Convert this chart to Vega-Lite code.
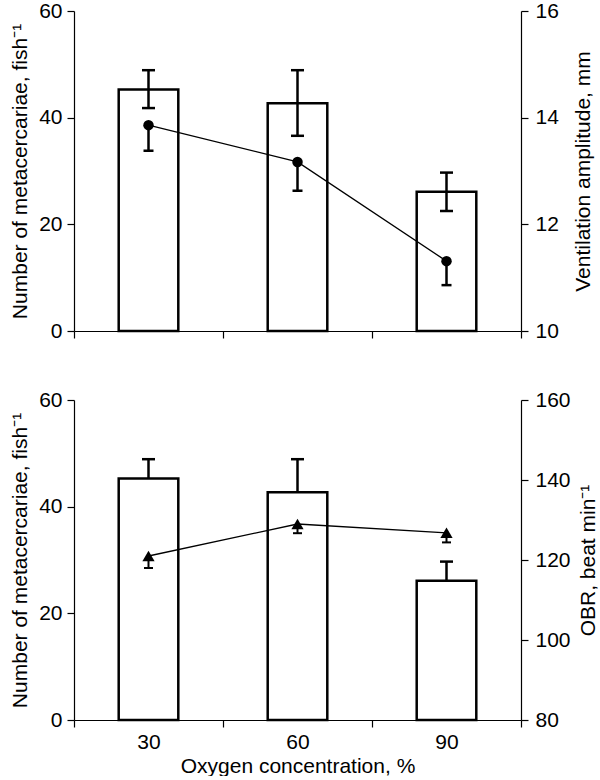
{
  "$schema": "https://vega.github.io/schema/vega-lite/v6.json",
  "padding": {"top": 0, "left": 9, "right": 0, "bottom": 0},
  "background": "white",
  "data": {"values": [
    {"o2": 30, "meta": 45.3, "meta_lo": 41.8, "meta_hi": 48.9, "vent": 13.86, "vent_lo": 13.38, "obr": 121, "obr_lo": 118},
    {"o2": 60, "meta": 42.7, "meta_lo": 36.6, "meta_hi": 48.9, "vent": 13.17, "vent_lo": 12.63, "obr": 129, "obr_lo": 126.7},
    {"o2": 90, "meta": 26.1, "meta_lo": 22.5, "meta_hi": 29.7, "vent": 11.31, "vent_lo": 10.86, "obr": 126.8, "obr_lo": 124.4}
  ]},
  "spacing": 48,
  "vconcat": [
    {
      "width": 447,
      "height": 320,
      "encoding": {
        "x": {"field": "o2", "type": "ordinal", "scale": {"padding": 0}, "axis": {"labels": false, "title": null, "tickBand": "extent", "labelAngle": 0}}
      },
      "layer": [
        {
          "layer": [
            {"mark": {"type": "bar", "fill": "white", "stroke": "black", "strokeWidth": 2.5, "width": {"band": 0.4}},
             "encoding": {"y": {"field": "meta", "type": "quantitative", "title": "Number of metacercariae, fish⁻¹", "scale": {"domain": [0, 60], "nice": false}, "axis": {"values": [0, 20, 40, 60], "orient": "left"}}}},
            {"mark": {"type": "rule", "color": "black", "strokeWidth": 2.5},
             "encoding": {"y": {"field": "meta_lo", "type": "quantitative", "title": "Number of metacercariae, fish⁻¹"}, "y2": {"field": "meta_hi"}}},
            {"mark": {"type": "tick", "color": "black", "thickness": 2.5, "size": 13, "opacity": 1},
             "encoding": {"y": {"field": "meta_hi", "type": "quantitative", "title": "Number of metacercariae, fish⁻¹"}}},
            {"mark": {"type": "tick", "color": "black", "thickness": 2.5, "size": 13, "opacity": 1},
             "encoding": {"y": {"field": "meta_lo", "type": "quantitative", "title": "Number of metacercariae, fish⁻¹"}}}
          ]
        },
        {
          "layer": [
            {"mark": {"type": "line", "color": "black", "strokeWidth": 1.3},
             "encoding": {"y": {"field": "vent", "type": "quantitative", "title": "Ventilation amplitude, mm", "scale": {"domain": [10, 16], "nice": false, "zero": false}, "axis": {"values": [10, 12, 14, 16], "orient": "right", "titleAngle": -90, "titleBaseline": "top", "labelPadding": 7, "titlePadding": 14}}}},
            {"mark": {"type": "rule", "color": "black", "strokeWidth": 2.5},
             "encoding": {"y": {"field": "vent_lo", "type": "quantitative", "title": "Ventilation amplitude, mm"}, "y2": {"field": "vent"}}},
            {"mark": {"type": "tick", "color": "black", "thickness": 2.5, "size": 10, "opacity": 1},
             "encoding": {"y": {"field": "vent_lo", "type": "quantitative", "title": "Ventilation amplitude, mm"}}},
            {"mark": {"type": "point", "filled": true, "color": "black", "size": 110, "opacity": 1},
             "encoding": {"y": {"field": "vent", "type": "quantitative", "title": "Ventilation amplitude, mm"}}}
          ]
        }
      ],
      "resolve": {"scale": {"y": "independent"}, "axis": {"y": "independent"}}
    },
    {
      "width": 447,
      "height": 320,
      "encoding": {
        "x": {"field": "o2", "type": "ordinal", "scale": {"padding": 0}, "axis": {"title": "Oxygen concentration, %", "tickBand": "extent", "labelAngle": 0, "labelPadding": 4, "titlePadding": 3}}
      },
      "layer": [
        {
          "layer": [
            {"mark": {"type": "bar", "fill": "white", "stroke": "black", "strokeWidth": 2.5, "width": {"band": 0.4}},
             "encoding": {"y": {"field": "meta", "type": "quantitative", "title": "Number of metacercariae, fish⁻¹", "scale": {"domain": [0, 60], "nice": false}, "axis": {"values": [0, 20, 40, 60], "orient": "left"}}}},
            {"mark": {"type": "rule", "color": "black", "strokeWidth": 2.5},
             "encoding": {"y": {"field": "meta", "type": "quantitative", "title": "Number of metacercariae, fish⁻¹"}, "y2": {"field": "meta_hi"}}},
            {"mark": {"type": "tick", "color": "black", "thickness": 2.5, "size": 13, "opacity": 1},
             "encoding": {"y": {"field": "meta_hi", "type": "quantitative", "title": "Number of metacercariae, fish⁻¹"}}}
          ]
        },
        {
          "layer": [
            {"mark": {"type": "line", "color": "black", "strokeWidth": 1.3},
             "encoding": {"y": {"field": "obr", "type": "quantitative", "title": "OBR, beat min⁻¹", "scale": {"domain": [80, 160], "nice": false, "zero": false}, "axis": {"values": [80, 100, 120, 140, 160], "orient": "right", "titleAngle": -90, "titleBaseline": "top", "labelPadding": 7, "titlePadding": 7}}}},
            {"mark": {"type": "rule", "color": "black", "strokeWidth": 2},
             "encoding": {"y": {"field": "obr_lo", "type": "quantitative", "title": "OBR, beat min⁻¹"}, "y2": {"field": "obr"}}},
            {"mark": {"type": "tick", "color": "black", "thickness": 2, "size": 9, "opacity": 1},
             "encoding": {"y": {"field": "obr_lo", "type": "quantitative", "title": "OBR, beat min⁻¹"}}},
            {"mark": {"type": "point", "shape": "triangle-up", "filled": true, "color": "black", "size": 150, "opacity": 1},
             "encoding": {"y": {"field": "obr", "type": "quantitative", "title": "OBR, beat min⁻¹"}}}
          ]
        }
      ],
      "resolve": {"scale": {"y": "independent"}, "axis": {"y": "independent"}}
    }
  ],
  "config": {
    "font": "Liberation Sans",
    "view": {"stroke": null},
    "axis": {"domainColor": "black", "tickColor": "black", "labelColor": "black", "titleColor": "black", "labelFontSize": 21, "titleFontSize": 21, "titleFontWeight": "normal", "grid": false, "tickSize": 7, "domainWidth": 1.2, "tickWidth": 1.2, "labelPadding": 5, "titlePadding": 8}
  }
}
